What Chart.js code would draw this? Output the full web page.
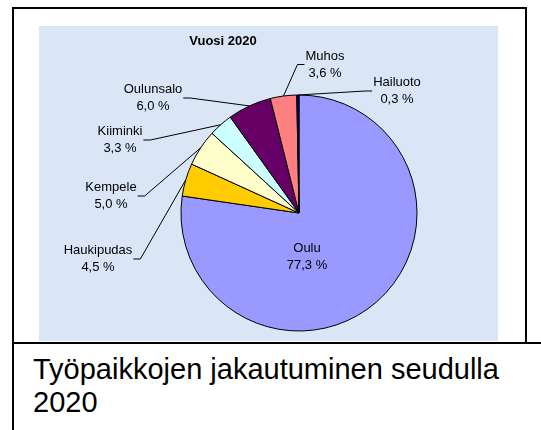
<!DOCTYPE html>
<html>
<head>
<meta charset="utf-8">
<script src="https://cdn.jsdelivr.net/npm/chart.js@4"></script>
<style>
  body { margin: 0; background: #fff; width: 541px; height: 430px; overflow: hidden; position: relative; }
  #frame { position: absolute; left: 12px; top: 7px; width: 511px; height: 335px; border: 2px solid #000; border-bottom: none; }
  #hline { position: absolute; left: 12px; top: 342px; width: 529px; height: 2px; background: #000; }
  #vline { position: absolute; left: 12px; top: 342px; width: 2px; height: 88px; background: #000; }
  #plot { position: absolute; left: 39px; top: 26px; width: 459px; height: 315px; background: #dae6f6; }
  #caption { position: absolute; left: 33px; top: 353px; font: 29px/33px "Liberation Sans", Arial, sans-serif; color: #000; }
</style>
</head>
<body>
<div id="frame"></div>
<div id="plot"><canvas id="pieChart"></canvas></div>
<div id="hline"></div>
<div id="vline"></div>
<div id="caption">Työpaikkojen jakautuminen seudulla<br>2020</div>

<script>
// Data
const categories = ['Oulu', 'Haukipudas', 'Kempele', 'Kiiminki', 'Oulunsalo', 'Muhos', 'Hailuoto'];
const shares = [77.3, 4.5, 5.0, 3.3, 6.0, 3.6, 0.3];
const chartTitle = 'Vuosi 2020';

// Styles
const sliceColors = ['#9999ff', '#ffcc00', '#ffffcc', '#ccffff', '#660066', '#ff8080', '#000080'];
// label centers relative to pie center (px at radius 118), placed by hand like the original
const labelOffsets = [[8, 43.5], [-201, 46], [-188, -17], [-179, -73], [-146, -115], [26, -148.5], [98, -122]];

function fmt(v) {
  return v.toFixed(1).replace('.', ',') + ' %';
}

// Draw the labels and leader lines
const pieLabels = {
  id: 'pieLabels',
  afterDatasetsDraw(chart) {
    const ctx = chart.ctx;
    const meta = chart.getDatasetMeta(0);
    ctx.save();
    ctx.fillStyle = '#000';
    ctx.strokeStyle = '#000';
    ctx.lineWidth = 1;
    ctx.textAlign = 'center';
    ctx.textBaseline = 'middle';

    ctx.font = 'bold 13px "Liberation Sans", Arial, sans-serif';
    ctx.fillText(chartTitle, 184, 15);

    ctx.font = '13px "Liberation Sans", Arial, sans-serif';
    meta.data.forEach((arc, i) => {
      const p = arc.getProps(['x', 'y', 'startAngle', 'endAngle', 'outerRadius'], true);
      const k = p.outerRadius / 118;
      const lx = p.x + labelOffsets[i][0] * k;
      const ly = p.y + labelOffsets[i][1] * k;
      const lines = [categories[i], fmt(shares[i])];
      ctx.fillText(lines[0], lx, ly - 8.5);
      ctx.fillText(lines[1], lx, ly + 8.5);
      if (i === 0) return;

      const mid = (p.startAngle + p.endAngle) / 2;
      const px = p.x + Math.cos(mid) * p.outerRadius;
      const py = p.y + Math.sin(mid) * p.outerRadius;
      const w = Math.max(ctx.measureText(lines[0]).width, ctx.measureText(lines[1]).width);
      let edge, elbow;
      if (lx < px) {
        edge = lx + w / 2 + 1;
        elbow = edge + 7;
      } else {
        edge = lx - w / 2 - 1;
        elbow = edge - 7;
      }
      ctx.beginPath();
      ctx.moveTo(px, py);
      ctx.lineTo(elbow, ly);
      ctx.lineTo(edge, ly);
      ctx.stroke();
    });
    ctx.restore();
  }
};

new Chart(document.getElementById('pieChart'), {
  type: 'pie',
  data: {
    labels: categories,
    datasets: [{
      data: shares,
      backgroundColor: sliceColors,
      borderColor: '#000',
      borderWidth: 1
    }]
  },
  options: {
    responsive: true,
    maintainAspectRatio: false,
    animation: false,
    layout: { padding: { left: 141.5, right: 80.5, top: 68.5, bottom: 9.5 } },
    plugins: {
      legend: { display: false },
      tooltip: { enabled: false }
    }
  },
  plugins: [pieLabels]
});
</script>
</body>
</html>
